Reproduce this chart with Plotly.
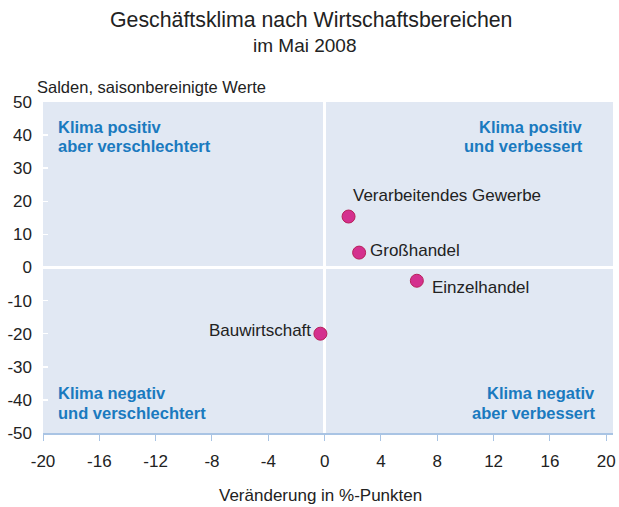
import plotly.graph_objects as go

sectors = ["Verarbeitendes Gewerbe", "Großhandel", "Einzelhandel", "Bauwirtschaft"]
change = [1.7, 2.45, 6.55, -0.3]
balance = [15.4, 4.5, -4.0, -20.0]

x_ticks = [-20, -16, -12, -8, -4, 0, 4, 8, 12, 16, 20]
y_ticks = [-50, -40, -30, -20, -10, 0, 10, 20, 30, 40, 50]

quadrant_lines = [
    ("Klima positiv", -19.0, 42.4, "left"),
    ("aber verschlechtert", -19.0, 36.7, "left"),
    ("Klima positiv", 18.4, 42.4, "right"),
    ("und verbessert", 18.4, 36.7, "right"),
    ("Klima negativ", -19.0, -37.8, "left"),
    ("und verschlechtert", -19.0, -43.9, "left"),
    ("Klima negativ", 19.3, -37.8, "right"),
    ("aber verbessert", 19.3, -43.9, "right"),
]

FONT = "Liberation Sans, Arial, sans-serif"
BLUE = "#1a7abf"
DARK = "#222222"

# label placement relative to the marker (pixels)
label_style = [
    dict(xanchor="left", xshift=3, yshift=21),
    dict(xanchor="left", xshift=10, yshift=2),
    dict(xanchor="left", xshift=14, yshift=-7),
    dict(xanchor="right", xshift=-8, yshift=3),
]

fig = go.Figure()
fig.add_trace(go.Scatter(
    x=change, y=balance, mode="markers",
    marker=dict(size=13, color="#d4308e", line=dict(color="#b8205a", width=1)),
    cliponaxis=False, hoverinfo="skip",
))

for name, x, y, st in zip(sectors, change, balance, label_style):
    fig.add_annotation(x=x, y=y, text=name, showarrow=False, yanchor="middle",
                       borderpad=0, font=dict(family=FONT, size=17, color=DARK), **st)

for txt, x, y, al in quadrant_lines:
    fig.add_annotation(x=x, y=y, text=txt, showarrow=False,
                       xanchor=al, yanchor="middle", borderpad=0,
                       font=dict(family=FONT, size=16.5, color=BLUE, weight="bold"))

fig.add_annotation(xref="paper", yref="paper", x=0.47, y=1, yshift=82,
                   text="Geschäftsklima nach Wirtschaftsbereichen", showarrow=False,
                   xanchor="center", yanchor="middle",
                   font=dict(family=FONT, size=21.3, color=DARK))
fig.add_annotation(xref="paper", yref="paper", x=0.46, y=1, yshift=57,
                   text="im Mai 2008", showarrow=False,
                   xanchor="center", yanchor="middle",
                   font=dict(family=FONT, size=19, color=DARK))
fig.add_annotation(xref="paper", yref="paper", x=0, y=1, xshift=-7, yshift=15,
                   text="Salden, saisonbereinigte Werte", showarrow=False,
                   xanchor="left", yanchor="middle", borderpad=0,
                   font=dict(family=FONT, size=16.5, color=DARK))
fig.add_annotation(xref="paper", yref="paper", x=0.486, y=0, yshift=-62,
                   text="Veränderung in %-Punkten", showarrow=False,
                   xanchor="center", yanchor="middle",
                   font=dict(family=FONT, size=17, color=DARK))

fig.update_layout(
    width=619, height=507,
    margin=dict(l=43, r=6, t=102, b=74),
    paper_bgcolor="white", plot_bgcolor="#e1e8f3",
    showlegend=False,
    font=dict(family=FONT, size=17, color=DARK),
)
fig.update_xaxes(
    range=[-20, 20.48], tickvals=x_ticks, ticktext=[str(v) for v in x_ticks],
    showgrid=False, zeroline=True, zerolinecolor="white", zerolinewidth=3,
    showline=True, linecolor="#a9c4e4", linewidth=1.5,
    ticks="outside", tickcolor="#a9c4e4", ticklen=6, tickwidth=1,
    ticklabelstandoff=6, automargin=False, ticklabeloverflow="allow",
    tickfont=dict(size=17, color=DARK), fixedrange=True,
)
fig.update_yaxes(
    range=[-50, 50], tickvals=y_ticks, ticktext=[str(v) for v in y_ticks],
    showgrid=False, zeroline=True, zerolinecolor="white", zerolinewidth=3,
    showline=False, ticks="inside", tickcolor="white", ticklen=5, tickwidth=1.5,
    ticklabelstandoff=10, automargin=False, ticklabeloverflow="allow",
    tickfont=dict(size=17, color=DARK), fixedrange=True,
)

fig.write_html(
    "out.html",
    config={"displayModeBar": False, "staticPlot": True},
    post_script="document.body.style.margin='0';document.body.style.overflow='hidden';",
)
